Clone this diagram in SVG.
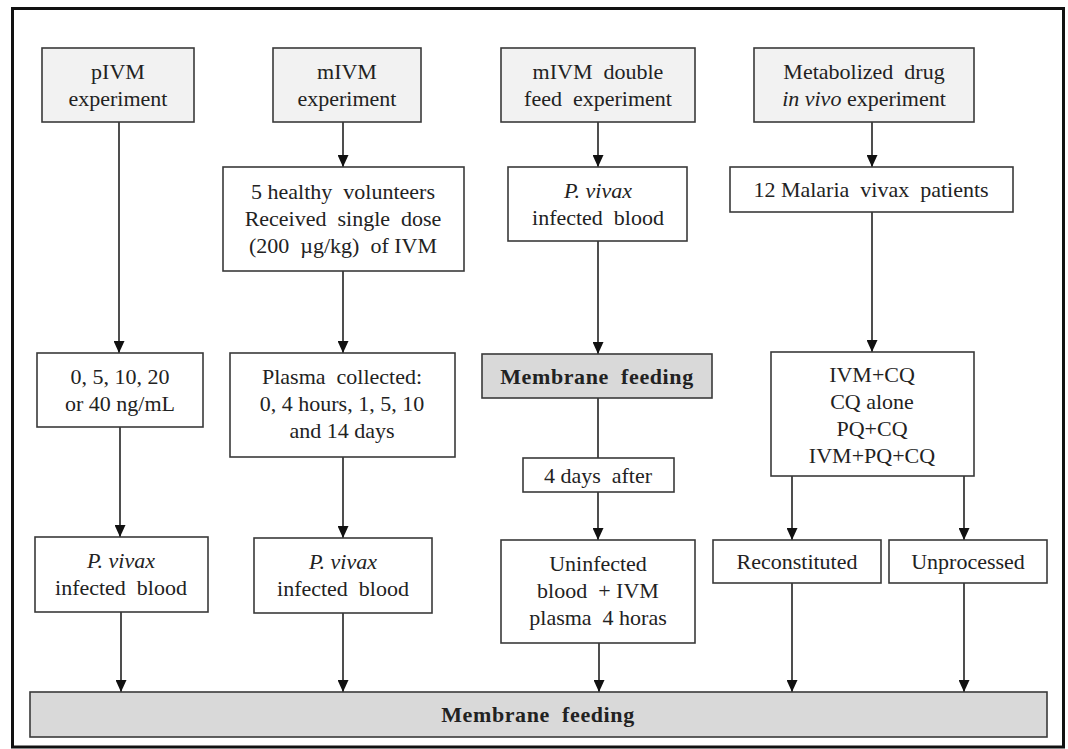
<svg xmlns="http://www.w3.org/2000/svg" width="1068" height="749" viewBox="0 0 1068 749">
<defs>
<style>
.frame{fill:#fff;stroke:#111;stroke-width:3}
.box{fill:#fff;stroke:#3a3a3a;stroke-width:1.6}
.top{fill:#f2f2f2;stroke:#3a3a3a;stroke-width:1.6}
.mf{fill:#d9d9d9;stroke:#3a3a3a;stroke-width:1.6}
text{font-family:"Liberation Serif","Times New Roman",serif;font-size:22px;fill:#222;text-anchor:middle;white-space:pre}
.b{font-weight:bold;letter-spacing:0.6px}
.i{font-style:italic}
.c line{stroke:#222;stroke-width:1.6;fill:none}
.a{marker-end:url(#arr)}
</style>
<marker id="arr" markerUnits="userSpaceOnUse" markerWidth="12" markerHeight="11" refX="12" refY="5.5" orient="auto">
<path d="M0,0 L12,5.5 L0,11 z" fill="#111"/>
</marker>
</defs>
<rect class="frame" x="12.5" y="8.5" width="1051" height="738.5"/>

<g class="c" id="connectors">
<line class="a" x1="119" y1="122" x2="119" y2="353"/>
<line class="a" x1="343" y1="122" x2="343" y2="167"/>
<line class="a" x1="343" y1="271" x2="343" y2="353"/>
<line class="a" x1="598" y1="122" x2="598" y2="167"/>
<line class="a" x1="598" y1="241" x2="598" y2="354"/>
<line x1="598" y1="398" x2="598" y2="458"/>
<line class="a" x1="598" y1="492" x2="598" y2="540"/>
<line class="a" x1="872" y1="122" x2="872" y2="167"/>
<line class="a" x1="872" y1="212" x2="872" y2="352"/>
<line class="a" x1="120" y1="427" x2="120" y2="537"/>
<line class="a" x1="343" y1="457" x2="343" y2="538"/>
<line class="a" x1="792" y1="476" x2="792" y2="540"/>
<line class="a" x1="964" y1="476" x2="964" y2="540"/>
<line class="a" x1="121" y1="612" x2="121" y2="692"/>
<line class="a" x1="343" y1="613" x2="343" y2="692"/>
<line class="a" x1="599" y1="643" x2="599" y2="692"/>
<line class="a" x1="792" y1="583" x2="792" y2="692"/>
<line class="a" x1="964" y1="583" x2="964" y2="692"/>
</g>

<g id="pivm-exp">
<rect class="top" x="42" y="48" width="152" height="74"/>
<text x="118" y="79">pIVM</text>
<text x="118" y="106">experiment</text>
</g>
<g id="mivm-exp">
<rect class="top" x="273" y="48" width="148" height="74"/>
<text x="347" y="79">mIVM</text>
<text x="347" y="106">experiment</text>
</g>
<g id="double-exp">
<rect class="top" x="501" y="48" width="194" height="74"/>
<text x="598" y="79">mIVM  double</text>
<text x="598" y="106">feed  experiment</text>
</g>
<g id="metab-exp">
<rect class="top" x="754" y="48" width="220" height="74"/>
<text x="864" y="79">Metabolized  drug</text>
<text x="864" y="106"><tspan class="i">in vivo</tspan> experiment</text>
</g>

<g id="volunteers">
<rect class="box" x="223" y="167" width="241" height="104"/>
<text x="343" y="199">5 healthy  volunteers</text>
<text x="343" y="226">Received  single  dose</text>
<text x="343" y="253">(200  µg/kg)  of IVM</text>
</g>
<g id="pvivax3">
<rect class="box" x="508" y="167" width="179" height="74"/>
<text x="598" y="198" class="i">P. vivax</text>
<text x="598" y="225">infected  blood</text>
</g>
<g id="patients">
<rect class="box" x="730" y="167" width="283" height="45"/>
<text x="871" y="197">12 Malaria  vivax  patients</text>
</g>

<g id="conc">
<rect class="box" x="37" y="353" width="166" height="74"/>
<text x="120" y="384">0, 5, 10, 20</text>
<text x="120" y="411">or 40 ng/mL</text>
</g>
<g id="plasma">
<rect class="box" x="230" y="353" width="225" height="104"/>
<text x="342" y="384">Plasma  collected:</text>
<text x="342" y="411">0, 4 hours, 1, 5, 10</text>
<text x="342" y="438">and 14 days</text>
</g>
<g id="mf-mid">
<rect class="mf" x="482" y="354" width="230" height="44"/>
<text x="597" y="384" class="b">Membrane  feeding</text>
</g>
<g id="drugs">
<rect class="box" x="771" y="352" width="203" height="124"/>
<text x="872" y="382">IVM+CQ</text>
<text x="872" y="409">CQ alone</text>
<text x="872" y="436">PQ+CQ</text>
<text x="872" y="463">IVM+PQ+CQ</text>
</g>
<g id="days4">
<rect class="box" x="523" y="458" width="151" height="34"/>
<text x="598" y="483">4 days  after</text>
</g>

<g id="pvivax1">
<rect class="box" x="35" y="537" width="173" height="75"/>
<text x="121" y="568" class="i">P. vivax</text>
<text x="121" y="595">infected  blood</text>
</g>
<g id="pvivax2">
<rect class="box" x="254" y="538" width="178" height="75"/>
<text x="343" y="569" class="i">P. vivax</text>
<text x="343" y="596">infected  blood</text>
</g>
<g id="uninfected">
<rect class="box" x="501" y="540" width="194" height="103"/>
<text x="598" y="571">Uninfected</text>
<text x="598" y="598">blood  + IVM</text>
<text x="598" y="625">plasma  4 horas</text>
</g>
<g id="reconstituted">
<rect class="box" x="713" y="540" width="168" height="43"/>
<text x="797" y="569">Reconstituted</text>
</g>
<g id="unprocessed">
<rect class="box" x="889" y="540" width="158" height="43"/>
<text x="968" y="569">Unprocessed</text>
</g>

<g id="mf-bottom">
<rect class="mf" x="30" y="692" width="1017" height="45"/>
<text x="538" y="722" class="b">Membrane  feeding</text>
</g>
</svg>
